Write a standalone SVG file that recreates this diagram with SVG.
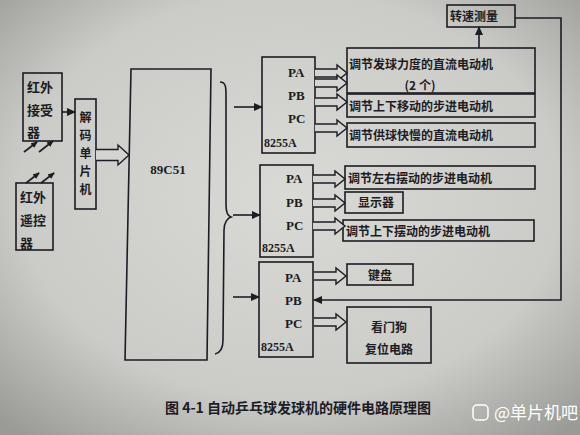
<svg xmlns="http://www.w3.org/2000/svg" width="580" height="435" viewBox="0 0 580 435">
<defs>
<radialGradient id="bg" cx="50%" cy="45%" r="72%">
<stop offset="0" stop-color="#d9d9d5"/>
<stop offset="0.65" stop-color="#cbcbc7"/>
<stop offset="1" stop-color="#9a9a96"/>
</radialGradient>
<marker id="ah" markerWidth="9" markerHeight="8" refX="8" refY="4" orient="auto" markerUnits="userSpaceOnUse">
<path d="M0,0 L9,4 L0,8 z" fill="#1c1c24"/>
</marker>
<marker id="sa" markerWidth="7" markerHeight="6" refX="6" refY="3" orient="auto" markerUnits="userSpaceOnUse">
<path d="M0,0 L7,3 L0,6 z" fill="#1c1c24"/>
</marker>
<path id="ha" d="M0,-4 H22 V-8 L32,0 L22,8 V4 H0"/>
</defs>
<style>
.box{fill:none;stroke:#1c1c24;stroke-width:1.6}
.ln{fill:none;stroke:#1c1c24;stroke-width:1.6}
.cn{font-family:"Noto Sans CJK SC","Noto Sans CJK JP",sans-serif;font-weight:700;fill:#1c1c24}
.en{font-family:"Liberation Serif",serif;font-weight:700;fill:#1c1c24}
.hol{fill:#d4d4d0;stroke:#1c1c24;stroke-width:1.4}
</style>
<rect x="0" y="0" width="580" height="435" fill="url(#bg)"/>

<g id="receiver">
<rect class="box" x="23" y="73" width="39" height="68"/>
<text class="cn" font-size="13" x="27" y="92">红外</text>
<text class="cn" font-size="13" x="27" y="115">接受</text>
<text class="cn" font-size="13" x="27" y="137">器</text>
</g>
<g id="remote">
<rect class="box" x="16" y="183" width="37" height="67"/>
<text class="cn" font-size="13" x="20" y="202">红外</text>
<text class="cn" font-size="13" x="20" y="225">遥控</text>
<text class="cn" font-size="13" x="20" y="248">器</text>
</g>
<g id="decoder">
<rect class="box" x="75" y="99" width="21" height="110"/>
<g class="cn" font-size="12" text-anchor="middle">
<text x="85.5" y="122">解</text>
<text x="85.5" y="140">码</text>
<text x="85.5" y="158">单</text>
<text x="85.5" y="176">片</text>
<text x="85.5" y="194">机</text>
</g>
</g>
<g id="mcu">
<polygon class="box" points="131,69 211,69 207,360 125,360"/>
<text class="en" font-size="13" x="168" y="174" text-anchor="middle">89C51</text>
</g>

<g id="i8255a-1">
<rect class="box" x="262" y="57" width="53" height="96"/>
<text class="en" font-size="13" x="288" y="77">PA</text>
<text class="en" font-size="13" x="288" y="100">PB</text>
<text class="en" font-size="13" x="288" y="123">PC</text>
<text class="en" font-size="12" x="264" y="147">8255A</text>
</g>
<g id="i8255a-2">
<rect class="box" x="260" y="165" width="53" height="92"/>
<text class="en" font-size="13" x="286" y="183">PA</text>
<text class="en" font-size="13" x="286" y="207">PB</text>
<text class="en" font-size="13" x="286" y="230">PC</text>
<text class="en" font-size="12" x="262" y="252">8255A</text>
</g>
<g id="i8255a-3">
<rect class="box" x="259" y="262" width="54" height="95"/>
<text class="en" font-size="13" x="285" y="282">PA</text>
<text class="en" font-size="13" x="285" y="305">PB</text>
<text class="en" font-size="13" x="285" y="328">PC</text>
<text class="en" font-size="12" x="261" y="351">8255A</text>
</g>

<g id="speed">
<rect class="box" x="447" y="5" width="68" height="22"/>
<text class="cn" font-size="12" x="450" y="21">转速测量</text>
</g>
<g id="motor-force">
<rect class="box" x="347" y="48" width="188" height="45"/>
<text class="cn" font-size="12" x="349" y="69">调节发球力度的直流电动机</text>
<text class="cn" font-size="12" x="420" y="90" text-anchor="middle">(2 个)</text>
</g>
<g id="motor-updown">
<rect class="box" x="347" y="94" width="188" height="23"/>
<text class="cn" font-size="12" x="349" y="111">调节上下移动的步进电动机</text>
</g>
<g id="motor-feed">
<rect class="box" x="347" y="123" width="188" height="24"/>
<text class="cn" font-size="12" x="349" y="140">调节供球快慢的直流电动机</text>
</g>
<g id="motor-swing-lr">
<rect class="box" x="345" y="166" width="190" height="23"/>
<text class="cn" font-size="12" x="348" y="183">调节左右摆动的步进电动机</text>
</g>
<g id="display">
<rect class="box" x="345" y="192" width="58" height="21"/>
<text class="cn" font-size="12" x="376" y="207" text-anchor="middle">显示器</text>
</g>
<g id="motor-swing-ud">
<rect class="box" x="343" y="220" width="191" height="21"/>
<text class="cn" font-size="12" x="346" y="236">调节上下摆动的步进电动机</text>
</g>
<g id="keyboard">
<rect class="box" x="347" y="264" width="66" height="21"/>
<text class="cn" font-size="12" x="380" y="280" text-anchor="middle">键盘</text>
</g>
<g id="watchdog">
<rect class="box" x="347" y="307" width="84" height="56"/>
<text class="cn" font-size="12" x="389" y="332" text-anchor="middle">看门狗</text>
<text class="cn" font-size="12" x="389" y="354" text-anchor="middle">复位电路</text>
</g>

<g id="connectors">
<line class="ln" x1="24" y1="152" x2="37" y2="142" marker-end="url(#sa)"/>
<line class="ln" x1="39" y1="152" x2="53" y2="141" marker-end="url(#sa)"/>
<line class="ln" x1="26" y1="183" x2="39" y2="173" marker-end="url(#sa)"/>
<line class="ln" x1="41" y1="183" x2="54" y2="173" marker-end="url(#sa)"/>
<line class="ln" x1="62" y1="112" x2="75" y2="112" marker-end="url(#ah)"/>
<path class="hol" d="M96,149.5 H118 V145 L129,155 L118,165 V160.5 H96"/>
<path class="ln" d="M220,82 C226,82 226,88 226,95 L226,205 C226,212 228,216 231,217 C228,218 224,222 224,230 L223,340 C223,348 220,353 215,354"/>
<line class="ln" x1="234" y1="107" x2="262" y2="107" marker-end="url(#ah)"/>
<line class="ln" x1="233" y1="215" x2="260" y2="215" marker-end="url(#ah)"/>
<line class="ln" x1="233" y1="297" x2="259" y2="297" marker-end="url(#ah)"/>
<use href="#ha" class="hol" transform="translate(315,73)"/>
<use href="#ha" class="hol" transform="translate(315,83)"/>
<use href="#ha" class="hol" transform="translate(315,102)"/>
<use href="#ha" class="hol" transform="translate(315,128)"/>
<use href="#ha" class="hol" transform="translate(313,179)"/>
<use href="#ha" class="hol" transform="translate(313,203)"/>
<use href="#ha" class="hol" transform="translate(313,226)"/>
<use href="#ha" class="hol" transform="translate(314,276)"/>
<use href="#ha" class="hol" transform="translate(314,322)"/>
<line class="ln" x1="479" y1="48" x2="479" y2="27" marker-end="url(#ah)"/>
<polyline class="ln" points="515,18 561,18 561,300 314,300" marker-end="url(#ah)"/>
</g>

<text class="cn" font-size="14" font-weight="600" x="165" y="413" fill="#2a2a30">图 4-1 自动乒乓球发球机的硬件电路原理图</text>
<g id="watermark">
<rect x="473" y="405" width="15" height="15" rx="4" fill="none" stroke="#ffffff" stroke-width="1.5"/>
<text x="494" y="419" font-family="Noto Sans CJK SC, sans-serif" font-size="17" fill="#ffffff">@单片机吧</text>
</g>
</svg>
